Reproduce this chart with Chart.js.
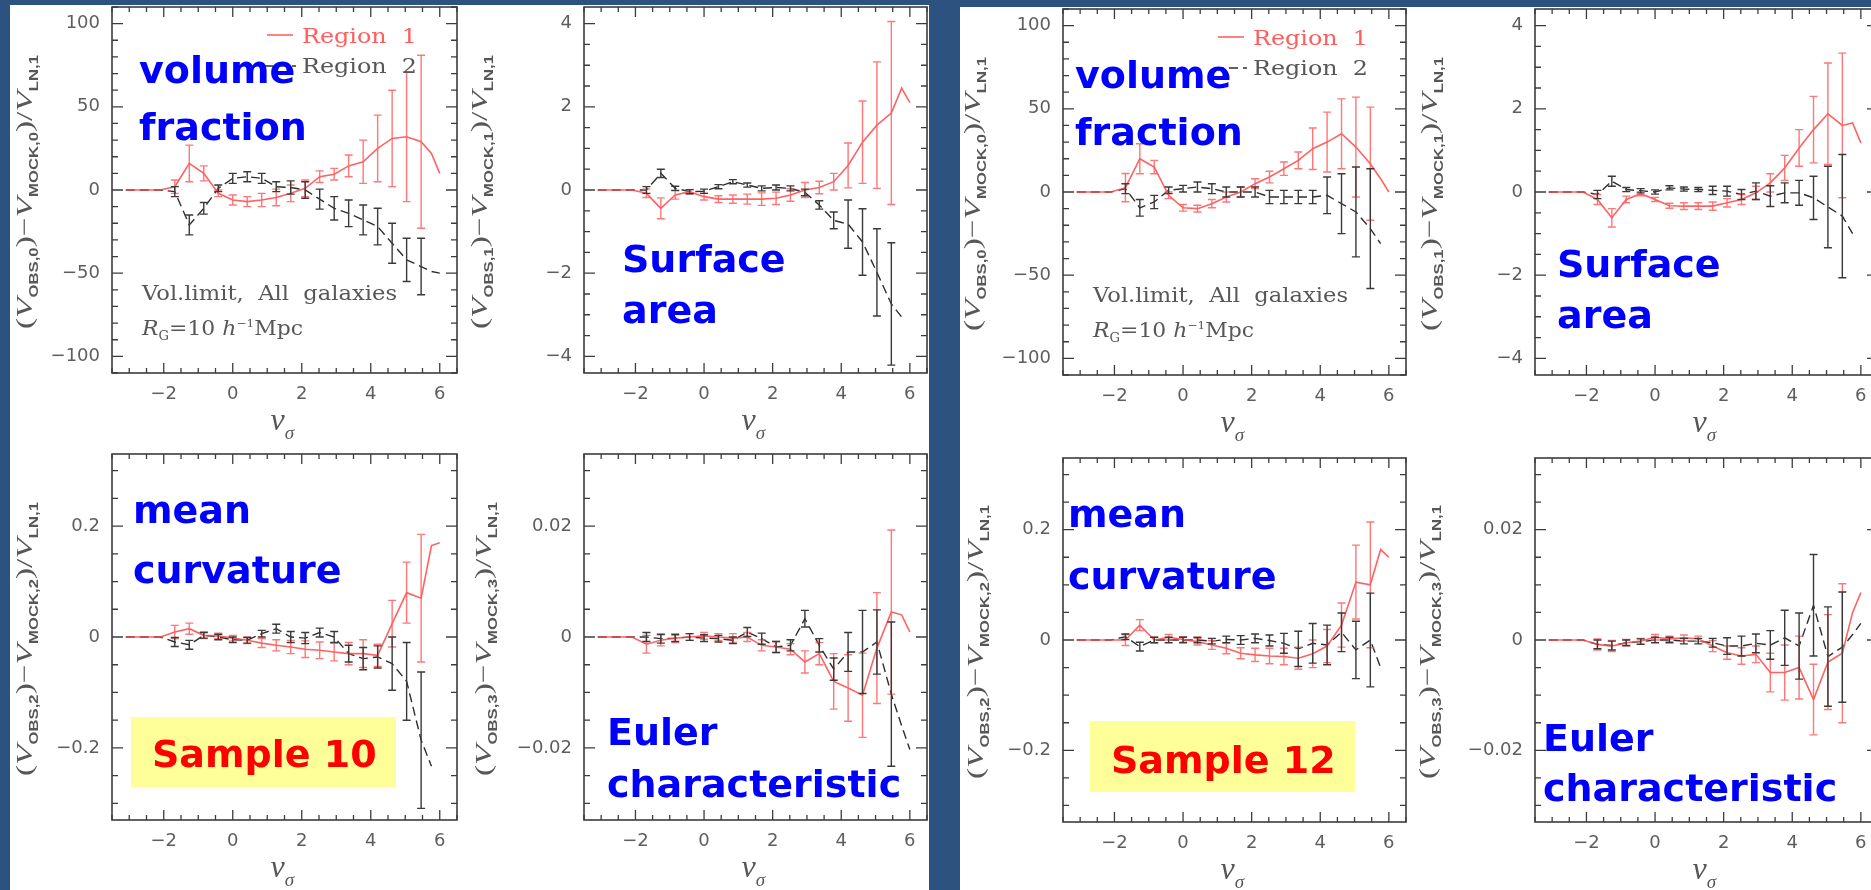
<!DOCTYPE html>
<html>
<head>
<meta charset="utf-8">
<script src="https://cdn.jsdelivr.net/npm/chart.js@4.4.1/dist/chart.umd.min.js"></script>
<style>
  html, body { margin: 0; padding: 0; width: 1871px; height: 890px; overflow: hidden; background: #2c5380; }
  .sheet { position: absolute; background: #fff; }
  canvas.panel { position: absolute; filter: blur(0.6px); }
  #notes { position: absolute; left: 0; top: 0; z-index: 10; }
</style>
</head>
<body>
<div class="sheet" style="left:10px;top:5px;width:919px;height:885px"></div>
<div class="sheet" style="left:960px;top:7px;width:911px;height:883px"></div>

<svg id="notes" width="1871" height="890" xmlns="http://www.w3.org/2000/svg">
  <g font-family="DejaVu Sans" font-weight="bold" font-size="38" fill="#0000ff">
    <text x="139" y="83">volume</text>
    <text x="139" y="140">fraction</text>
    <text x="622" y="272">Surface</text>
    <text x="622" y="323">area</text>
    <text x="133" y="523">mean</text>
    <text x="133" y="583">curvature</text>
    <text x="607" y="745">Euler</text>
    <text x="607" y="797">characteristic</text>
    <text x="1075" y="88">volume</text>
    <text x="1075" y="145">fraction</text>
    <text x="1557" y="277">Surface</text>
    <text x="1557" y="328">area</text>
    <text x="1068" y="527">mean</text>
    <text x="1068" y="589">curvature</text>
    <text x="1543" y="751">Euler</text>
    <text x="1543" y="801">characteristic</text>
  </g>
  <rect x="131" y="717" width="265" height="70" fill="#ffff99"/>
  <rect x="1090" y="721" width="265" height="71" fill="#ffff99"/>
  <g font-family="DejaVu Sans" font-weight="bold" font-size="38" fill="#ff0000">
    <text x="152" y="767">Sample 10</text>
    <text x="1111" y="773">Sample 12</text>
  </g>
</svg>

<script>
// threshold values shared by every curve
const nu = [-3.1, -2.1, -1.68, -1.26, -0.84, -0.42, 0, 0.42, 0.84, 1.26, 1.68, 2.1, 2.52, 2.94, 3.36, 3.78, 4.2, 4.62, 5.04, 5.46, 5.76, 6.0];

// tick labels
const xTicks = [-2, 0, 2, 4, 6];
const volTicks = [-100, -50, 0, 50, 100];
const areaTicks = [-4, -2, 0, 2, 4];
const curvTicks = [-0.2, 0, 0.2];
const eulerTicks = [-0.02, 0, 0.02];

// Sample 10
const vol10Red = [0, 0, 2, 16, 10, -2, -6, -7, -6, -4.5, -2, 1, 8, 9.5, 14.5, 17, 25, 31, 32, 29, 22, 10];
const vol10RedErr = [null, null, 4, 11, 4.5, 2, 3, 3, 4, 5, 5, 5, 3.5, 3.5, 6.5, 13, 20, 29, 39, 52, null, null];
const vol10Black = [0, 0, -1, -21, -11, 1, 7, 8, 7, 2, 1.5, 0, -5.5, -11, -14, -18, -22, -32, -42, -46, -49, -50];
const vol10BlackErr = [null, null, 3, 6, 3.5, 2, 3, 3, 3, 3, 4, 5, 6, 7, 8, 9, 11, 12, 13, 17, null, null];

const area10Red = [0, 0, -0.08, -0.44, -0.12, -0.04, -0.16, -0.22, -0.22, -0.22, -0.22, -0.2, -0.12, 0, 0.06, 0.2, 0.59, 1.15, 1.56, 1.85, 2.45, 2.1];
const area10RedErr = [null, null, 0.1, 0.25, 0.1, 0.05, 0.08, 0.08, 0.1, 0.12, 0.15, 0.15, 0.15, 0.18, 0.15, 0.2, 0.54, 0.99, 1.52, 2.2, null, null];
const area10Black = [0, 0, 0, 0.4, 0.04, -0.04, -0.03, 0.08, 0.2, 0.12, 0.04, 0.06, 0.04, -0.06, -0.36, -0.73, -0.82, -1.25, -1.98, -2.74, -3.05, null];
const area10BlackErr = [null, null, 0.08, 0.1, 0.05, 0.05, 0.05, 0.05, 0.05, 0.05, 0.06, 0.06, 0.06, 0.08, 0.1, 0.2, 0.58, 0.8, 1.05, 1.47, null, null];

const curv10Red = [0, 0, 0.009, 0.015, 0.003, 0.002, -0.002, -0.006, -0.011, -0.015, -0.018, -0.022, -0.024, -0.027, -0.03, -0.03, -0.033, 0.024, 0.08, 0.07, 0.165, 0.17];
const curv10RedErr = [null, null, 0.012, 0.01, 0.006, 0.005, 0.005, 0.006, 0.008, 0.01, 0.012, 0.015, 0.015, 0.016, 0.02, 0.025, 0.02, 0.042, 0.055, 0.115, null, null];
const curv10Black = [0, 0, -0.009, -0.014, 0.003, 0, -0.005, -0.006, 0.006, 0.015, 0, -0.002, 0.008, 0, -0.03, -0.039, -0.036, -0.048, -0.08, -0.186, -0.233, null];
const curv10BlackErr = [null, null, 0.008, 0.008, 0.005, 0.005, 0.005, 0.005, 0.006, 0.008, 0.01, 0.01, 0.008, 0.01, 0.015, 0.02, 0.02, 0.048, 0.07, 0.123, null, null];

const euler10Red = [0, 0, -0.0013, -0.0006, -0.0002, 0, 0.0002, 0, -0.0002, 0, -0.0015, -0.0018, -0.0022, -0.0045, -0.003, -0.008, -0.0092, -0.0105, -0.002, 0.0045, 0.004, 0.0009];
const euler10RedErr = [null, null, 0.0016, 0.001, 0.0008, 0.0006, 0.0006, 0.0006, 0.0008, 0.0008, 0.001, 0.001, 0.001, 0.002, 0.002, 0.005, 0.006, 0.0076, 0.01, 0.0148, null, null];
const euler10Black = [0, 0, 0, -0.0003, -0.0002, 0, -0.0002, -0.0003, -0.0006, 0.0009, -0.0003, -0.0018, -0.0015, 0.0033, -0.0015, -0.0058, -0.0027, -0.0027, -0.0009, -0.0103, -0.016, -0.0203];
const euler10BlackErr = [null, null, 0.0008, 0.0008, 0.0006, 0.0006, 0.0006, 0.0006, 0.0006, 0.0008, 0.001, 0.001, 0.001, 0.0015, 0.0012, 0.002, 0.0035, 0.0075, 0.0058, 0.013, null, null];

// Sample 12
const vol12Red = [0, 0, 2.6, 20, 15, -2, -9.5, -10, -7, -3, 0, 5, 9, 14, 19, 26, 30, 35, 27, 17, 8, 0];
const vol12RedErr = [null, null, 8.5, 9, 4, 2, 2, 2, 2.5, 3, 3, 3, 3.5, 4, 5, 12.5, 18, 21, 30, 34, null, null];
const vol12Black = [0, 0, 2, -9.5, -6, 1, 2, 3, 2, 0, 0, 0, -3, -3, -3, -3, -2, -7, -12, -22, -31, null];
const vol12BlackErr = [null, null, 3, 5, 4, 2, 2, 3, 3, 3, 3, 3, 4, 4, 4, 4, 11, 18, 27, 36, null, null];

const area12Red = [0, 0, -0.18, -0.62, -0.18, -0.04, -0.18, -0.33, -0.34, -0.34, -0.34, -0.26, -0.18, -0.02, 0.22, 0.58, 1.06, 1.5, 1.88, 1.6, 1.66, 1.18];
const area12RedErr = [null, null, 0.12, 0.22, 0.08, 0.05, 0.05, 0.06, 0.08, 0.08, 0.1, 0.1, 0.12, 0.16, 0.22, 0.3, 0.44, 0.8, 1.22, 1.74, null, null];
const area12Black = [0, 0, -0.06, 0.26, 0.06, 0.03, 0, 0.1, 0.07, 0.06, 0.04, 0.02, -0.06, 0.02, -0.1, -0.02, -0.02, -0.14, -0.36, -0.58, -1.0, null];
const area12BlackErr = [null, null, 0.1, 0.12, 0.05, 0.05, 0.05, 0.05, 0.05, 0.05, 0.1, 0.12, 0.12, 0.2, 0.25, 0.24, 0.3, 0.52, 0.98, 1.48, null, null];

const curv12Red = [0, 0, 0, 0.027, 0, 0.005, 0.001, -0.003, -0.009, -0.015, -0.024, -0.027, -0.029, -0.03, -0.033, -0.025, -0.011, 0.027, 0.105, 0.1, 0.164, 0.15];
const curv12RedErr = [null, null, 0.01, 0.01, 0.005, 0.005, 0.005, 0.006, 0.008, 0.01, 0.01, 0.012, 0.014, 0.015, 0.02, 0.025, 0.03, 0.04, 0.067, 0.114, null, null];
const curv12Black = [0, 0, 0.006, -0.012, 0, 0, 0, 0, -0.002, 0.001, 0, 0.003, -0.001, -0.006, -0.016, -0.006, -0.009, 0.014, -0.018, 0, -0.05, null];
const curv12BlackErr = [null, null, 0.005, 0.008, 0.005, 0.005, 0.005, 0.005, 0.005, 0.006, 0.008, 0.008, 0.01, 0.018, 0.032, 0.036, 0.036, 0.035, 0.052, 0.085, null, null];

const euler12Red = [0, 0, -0.0008, -0.0011, -0.0005, -0.0002, 0.0005, 0.0002, 0.0004, 0.0002, -0.0011, -0.0023, -0.0029, -0.0026, -0.0059, -0.0059, -0.005, -0.0108, -0.004, -0.0024, 0.005, 0.0086];
const euler12RedErr = [null, null, 0.001, 0.001, 0.0006, 0.0005, 0.0005, 0.0005, 0.0005, 0.0005, 0.001, 0.0012, 0.0015, 0.0015, 0.0035, 0.005, 0.0057, 0.0064, 0.0086, 0.0126, null, null];
const euler12Black = [0, 0, -0.0008, -0.001, -0.0005, -0.0003, 0, 0, -0.0002, -0.0002, -0.0005, -0.0011, -0.0011, -0.0006, -0.0009, 0.0004, -0.0011, 0.0063, -0.003, -0.0013, 0.001, 0.003];
const euler12BlackErr = [null, null, 0.0008, 0.0008, 0.0005, 0.0005, 0.0005, 0.0005, 0.0005, 0.0005, 0.0008, 0.0015, 0.0018, 0.0017, 0.0026, 0.005, 0.006, 0.0092, 0.009, 0.01, null, null];

const RED = 'rgba(255, 70, 70, 0.85)';
const RED_BAR = 'rgba(255, 95, 95, 0.85)';
const DARK = '#2e2e2e';
const GREY_TXT = '#575757';
const LEFT_ROOM = 130;   // canvas space left of each frame for tick labels and the y title

Chart.defaults.font.family = '"DejaVu Sans", sans-serif';

// frame box of each panel on the page: [left, top, right, bottom]
const panels = [
  { frame: [112, 7, 457, 373], y: [-110, 110], ticks: volTicks, minor: 10, k: 0, tOff: 80, notes: true,
    red: vol10Red, redErr: vol10RedErr, black: vol10Black, blackErr: vol10BlackErr },
  { frame: [584, 7, 927, 373], y: [-4.4, 4.4], ticks: areaTicks, minor: 0.5, k: 1, tOff: 97,
    red: area10Red, redErr: area10RedErr, black: area10Black, blackErr: area10BlackErr },
  { frame: [112, 454, 457, 820], y: [-0.33, 0.33], ticks: curvTicks, minor: 0.05, k: 2, tOff: 80,
    red: curv10Red, redErr: curv10RedErr, black: curv10Black, blackErr: curv10BlackErr },
  { frame: [584, 454, 927, 820], y: [-0.033, 0.033], ticks: eulerTicks, minor: 0.005, k: 3, tOff: 93,
    red: euler10Red, redErr: euler10RedErr, black: euler10Black, blackErr: euler10BlackErr },
  { frame: [1063, 9, 1406, 375], y: [-110, 110], ticks: volTicks, minor: 10, k: 0, tOff: 83, notes: true,
    red: vol12Red, redErr: vol12RedErr, black: vol12Black, blackErr: vol12BlackErr },
  { frame: [1535, 9, 1878, 375], y: [-4.4, 4.4], ticks: areaTicks, minor: 0.5, k: 1, tOff: 98,
    red: area12Red, redErr: area12RedErr, black: area12Black, blackErr: area12BlackErr },
  { frame: [1063, 458, 1406, 822], y: [-0.33, 0.33], ticks: curvTicks, minor: 0.05, k: 2, tOff: 80,
    red: curv12Red, redErr: curv12RedErr, black: curv12Black, blackErr: curv12BlackErr },
  { frame: [1535, 458, 1878, 822], y: [-0.033, 0.033], ticks: eulerTicks, minor: 0.005, k: 3, tOff: 100,
    red: euler12Red, redErr: euler12RedErr, black: euler12Black, blackErr: euler12BlackErr }
];

const toPoints = arr => nu.map((x, i) => ({ x: x, y: arr[i] }));
const fmt = v => String(v).replace('-', '\u2212');

// draws a run of [text, font, dy] pieces, stretched to a given width
function richRun(ctx, parts, x, y, width) {
  let total = 0;
  parts.forEach(p => { ctx.font = p[1]; total += ctx.measureText(p[0]).width; });
  const sx = width ? width / total : 1;
  ctx.save();
  ctx.translate(x, y);
  ctx.scale(sx, 1);
  let cx = 0;
  parts.forEach(p => {
    ctx.font = p[1];
    ctx.fillText(p[0], cx, p[2] || 0);
    cx += ctx.measureText(p[0]).width;
  });
  ctx.restore();
}

function ticksBetween(min, max, step) {
  const out = [];
  for (let k = Math.ceil(min / step - 1e-9); k * step <= max + 1e-9; k++) out.push(k * step);
  return out;
}

function makePanel(p) {
  const [x0, y0, x1, y1] = p.frame;
  const cv = document.createElement('canvas');
  cv.className = 'panel';
  cv.width = (x1 - x0) + LEFT_ROOM + 5;
  cv.height = (y1 - y0) + 80;
  cv.style.left = (x0 - LEFT_ROOM) + 'px';
  cv.style.top = (y0 - 5) + 'px';
  document.body.appendChild(cv);

  const errSets = [p.redErr, p.blackErr];
  const valSets = [p.red, p.black];

  const errorBars = {
    id: 'errorBars',
    afterDatasetsDraw(chart) {
      const { ctx, chartArea: a, scales: { x, y } } = chart;
      ctx.save();
      ctx.beginPath();
      ctx.rect(a.left, a.top, a.right - a.left, a.bottom - a.top);
      ctx.clip();
      errSets.forEach((errs, s) => {
        ctx.strokeStyle = s === 0 ? RED_BAR : '#3a3a3a';
        ctx.lineWidth = 1.4;
        errs.forEach((e, i) => {
          if (e == null || valSets[s][i] == null) return;
          const px = x.getPixelForValue(nu[i]);
          const top = y.getPixelForValue(valSets[s][i] + e);
          const bot = y.getPixelForValue(valSets[s][i] - e);
          ctx.beginPath();
          ctx.moveTo(px, top); ctx.lineTo(px, bot);
          ctx.moveTo(px - 4, top); ctx.lineTo(px + 4, top);
          ctx.moveTo(px - 4, bot); ctx.lineTo(px + 4, bot);
          ctx.stroke();
        });
      });
      ctx.restore();
    }
  };

  const frameAndTitles = {
    id: 'frameAndTitles',
    afterDraw(chart) {
      const { ctx, chartArea: a, scales: { x, y } } = chart;
      ctx.save();
      // box with inward ticks on all four sides
      ctx.strokeStyle = '#3c3c3c';
      ctx.lineWidth = 1.6;
      ctx.strokeRect(a.left, a.top, a.right - a.left, a.bottom - a.top);
      ctx.lineWidth = 1.3;
      ctx.beginPath();
      ticksBetween(-3.5, 6.5, 0.5).forEach(v => {
        const px = x.getPixelForValue(v);
        const len = xTicks.some(t => Math.abs(t - v) < 1e-6) ? 10 : 5;
        ctx.moveTo(px, a.bottom); ctx.lineTo(px, a.bottom - len);
        ctx.moveTo(px, a.top); ctx.lineTo(px, a.top + len);
      });
      ticksBetween(p.y[0], p.y[1], p.minor).forEach(v => {
        const py = y.getPixelForValue(v);
        const len = p.ticks.some(t => Math.abs(t - v) < p.minor * 1e-3) ? 11 : 6;
        ctx.moveTo(a.left, py); ctx.lineTo(a.left + len, py);
        ctx.moveTo(a.right, py); ctx.lineTo(a.right - len, py);
      });
      ctx.stroke();

      ctx.fillStyle = GREY_TXT;
      ctx.textBaseline = 'alphabetic';
      ctx.textAlign = 'left';

      // x title: nu sub sigma
      const cx = (a.left + a.right) / 2 - 14;
      richRun(ctx, [
        ['\u03bd', 'italic 32px "Liberation Serif"', 0],
        ['\u03c3', 'italic 19px "Liberation Serif"', 9]
      ], cx, a.bottom + 57);

      // y title, rotated
      const k = p.k;
      ctx.save();
      ctx.translate(a.left - p.tOff, (a.top + a.bottom) / 2 + 2);
      ctx.rotate(-Math.PI / 2);
      const main = '24px "Liberation Serif"', ital = 'italic 24px "Liberation Serif"', sub = 'bold 12px "Liberation Sans"';
      richRun(ctx, [
        ['(', main, 0], ['V', ital, 0], ['OBS,' + k, sub, 6], [')\u2212', main, 0],
        ['V', ital, 0], ['MOCK,' + k, sub, 6], [')/', main, 0], ['V', ital, 0], ['LN,1', sub, 6]
      ], -137, 0, 274);
      ctx.restore();

      if (p.notes) {
        const L = a.left, T = a.top;
        const serif = '20px "DejaVu Serif"';
        // legend
        ctx.strokeStyle = RED;
        ctx.lineWidth = 1.6;
        ctx.beginPath(); ctx.moveTo(L + 155, T + 28); ctx.lineTo(L + 181, T + 28); ctx.stroke();
        ctx.strokeStyle = DARK;
        ctx.setLineDash([9, 5]);
        ctx.beginPath(); ctx.moveTo(L + 152, T + 59); ctx.lineTo(L + 184, T + 59); ctx.stroke();
        ctx.setLineDash([]);
        ctx.fillStyle = '#ff5c5c';
        richRun(ctx, [['Region  1', serif, 0]], L + 190, T + 36, 115);
        ctx.fillStyle = GREY_TXT;
        richRun(ctx, [['Region  2', serif, 0]], L + 190, T + 66, 115);
        // sample description
        richRun(ctx, [['Vol.limit,  All  galaxies', serif, 0]], L + 30, T + 293, 255);
        richRun(ctx, [
          ['R', 'italic 20px "DejaVu Serif"', 0], ['G', '12px "DejaVu Serif"', 5],
          ['=10 ', serif, 0], ['h', 'italic 20px "DejaVu Serif"', 0],
          ['\u22121', '11px "DejaVu Serif"', -8], ['Mpc', serif, 0]
        ], L + 30, T + 328, 161);
      }
      ctx.restore();
    }
  };

  new Chart(cv.getContext('2d'), {
    type: 'line',
    data: {
      datasets: [
        { label: 'Region 1', data: toPoints(p.red), borderColor: RED, borderWidth: 1.6,
          pointRadius: 0, tension: 0, spanGaps: false },
        { label: 'Region 2', data: toPoints(p.black), borderColor: DARK, borderWidth: 1.4,
          borderDash: [9, 5], pointRadius: 0, tension: 0, spanGaps: false }
      ]
    },
    options: {
      responsive: false,
      animation: false,
      devicePixelRatio: 1,
      layout: { padding: { top: 5, right: 5, left: 0, bottom: 0 }, autoPadding: false },
      plugins: { legend: { display: false }, tooltip: { enabled: false } },
      scales: {
        x: {
          type: 'linear', min: -3.5, max: 6.5,
          afterBuildTicks: s => { s.ticks = xTicks.map(v => ({ value: v })); },
          afterFit: s => { s.height = 75; s.paddingLeft = s.paddingRight = 0; },
          grid: { display: false, drawTicks: false },
          border: { display: false },
          ticks: { padding: 11, color: '#5e5e5e', font: { size: 18 }, maxRotation: 0, autoSkip: false, callback: fmt }
        },
        y: {
          type: 'linear', min: p.y[0], max: p.y[1],
          afterBuildTicks: s => { s.ticks = p.ticks.map(v => ({ value: v })); },
          afterFit: s => { s.width = LEFT_ROOM; s.paddingTop = s.paddingBottom = 0; },
          grid: { display: false, drawTicks: false },
          border: { display: false },
          ticks: { padding: 12, color: '#5e5e5e', font: { size: 18 }, autoSkip: false, callback: fmt }
        }
      }
    },
    plugins: [errorBars, frameAndTitles]
  });
}

panels.forEach(makePanel);
</script>
</body>
</html>
